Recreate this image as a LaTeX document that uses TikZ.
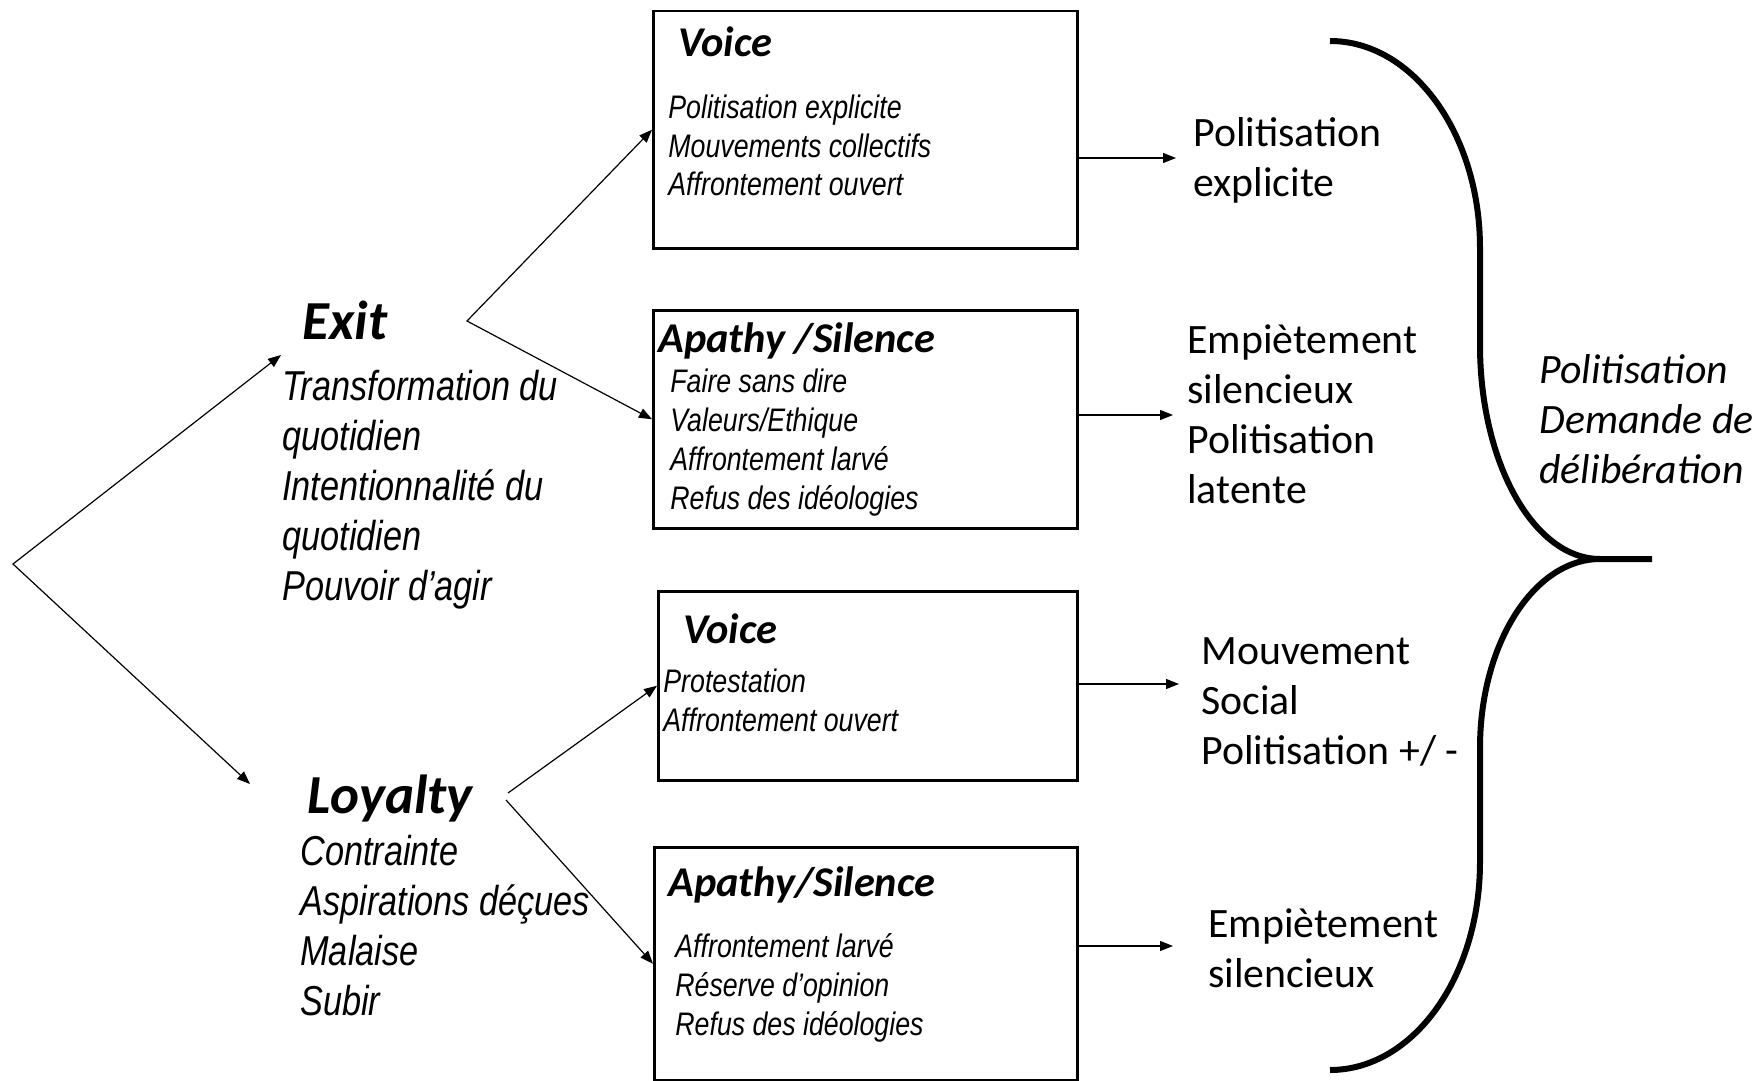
\documentclass[tikz,border=0pt]{standalone}
\usepackage{fontspec}
\usetikzlibrary{arrows.meta,calc}
\newfontfamily\calib{Carlito}
\newfontfamily\narrow[FakeStretch=0.82]{Liberation Sans}
\begin{document}
\begin{tikzpicture}[x=0.5pt,y=-0.5pt,
  box/.style={draw=black, line width=1.25pt, inner sep=0pt, anchor=north west},
  ttl/.style={font=\calib\bfseries\itshape\fontsize{21.2}{24}\selectfont, anchor=base west, inner sep=0pt},
  itm/.style={font=\narrow\itshape\fontsize{16.3}{19.5}\selectfont, anchor=base west, inner sep=0pt, align=left},
  lst/.style={font=\narrow\itshape\fontsize{20.9}{25}\selectfont, anchor=base west, inner sep=0pt, align=left},
  big/.style={font=\calib\bfseries\itshape\fontsize{27.5}{33}\selectfont, anchor=base west, inner sep=0pt},
  res/.style={font=\calib\fontsize{20.9}{25}\selectfont, anchor=base west, inner sep=0pt, align=left},
  resit/.style={res, font=\calib\itshape\fontsize{20.9}{25}\selectfont},
  arr/.style={-{Triangle[length=6.5pt,width=5pt]}, line width=0.6pt},
  arrtwo/.style={{Triangle[length=6.5pt,width=5pt]}-{Triangle[length=6.5pt,width=5pt]}, line width=0.6pt},
  bracestroke/.style={line width=3pt}]
\useasboundingbox (0,0) rectangle (1752,1081);
\clip (0,0) rectangle (1752,1081);
\fill[white] (0,0) rectangle (1752,1081);

% boxes
\node[box, minimum width=212pt, minimum height=118.5pt] (v1) at (652,10) {};
\node[box, minimum width=212pt, minimum height=109pt] (a1) at (652,309) {};
\node[box, minimum width=209.5pt, minimum height=94.5pt] (v2) at (657,590) {};
\node[box, minimum width=211.5pt, minimum height=116.5pt] (a2) at (653,846) {};

% box texts (multi-line nodes are anchored at the baseline of their last line)
\node[ttl] (v1t) at (678,57) {Voice};
\node[itm] (v1i) at (668,196) {Politisation explicite\\Mouvements collectifs\\Affrontement ouvert};
\node[ttl] (a1t) at (658,352) {Apathy /Silence};
\node[itm] (a1i) at (670,509) {Faire sans dire\\Valeurs/Ethique\\Affrontement larvé\\Refus des idéologies};
\node[ttl] (v2t) at (683,643) {Voice};
\node[itm] (v2i) at (663,731) {Protestation\\Affrontement ouvert};
\node[ttl] (a2t) at (668,896) {Apathy/Silence};
\node[itm] (a2i) at (675,1035) {Affrontement larvé\\Réserve d’opinion\\Refus des idéologies};

% left texts
\node[big] (exit) at (302,339) {Exit};
\node[lst] (exitl) at (282,600) {Transformation du\\quotidien\\Intentionnalité du\\quotidien\\Pouvoir d’agir};
\node[big] (loy) at (307,813) {Loyalty};
\node[lst] (loyl) at (300,1015) {Contrainte\\Aspirations déçues\\Malaise\\Subir};

% right texts
\node[res] (r1) at (1193,197) {Politisation\\explicite};
\node[res] (r2) at (1187,503) {Empiètement\\silencieux\\Politisation\\latente};
\node[res] (r3) at (1201,764) {Mouvement\\Social\\Politisation +/ -};
\node[res] (r4) at (1208,987) {Empiètement\\silencieux};
\node[resit] (rr) at (1539,483) {Politisation\\Demande de\\délibération};

% left connectors
\coordinate (root) at (13,564);
\coordinate (exittip) at (281,355);
\coordinate (loytip) at (250,784);
\draw[arrtwo] (exittip) -- (root) -- (loytip);

\coordinate (ef) at (467,321);
\draw[arrtwo] (v1.west) -- (ef) -- (a1.west);
\coordinate (lfa) at (508,793);
\coordinate (lfb) at (506,800);
\draw[arr] (lfa) -- (v2.west);
\draw[arr] (lfb) -- (a2.west);

% right connectors
\coordinate (ta) at (1176,158);
\coordinate (tb) at (1173,415);
\coordinate (tc) at (1179,684);
\coordinate (td) at (1173,946);
\draw[arr] (v1.east |- ta) -- (ta);
\draw[arr] (a1.east |- tb) -- (tb);
\draw[arr] (v2.east |- tc) -- (tc);
\draw[arr] (a2.east |- td) -- (td);

% brace
\draw[bracestroke] (1330,41) .. controls (1413,41) and (1480,134) .. (1480,248) -- (1480,345)
  .. controls (1480,463) and (1534,559) .. (1600,559) -- (1652,559);
\draw[bracestroke] (1600,559) .. controls (1534,559) and (1480,644) .. (1480,748) -- (1480,862)
  .. controls (1480,977) and (1413,1070) .. (1330,1070);
\end{tikzpicture}
\end{document}
